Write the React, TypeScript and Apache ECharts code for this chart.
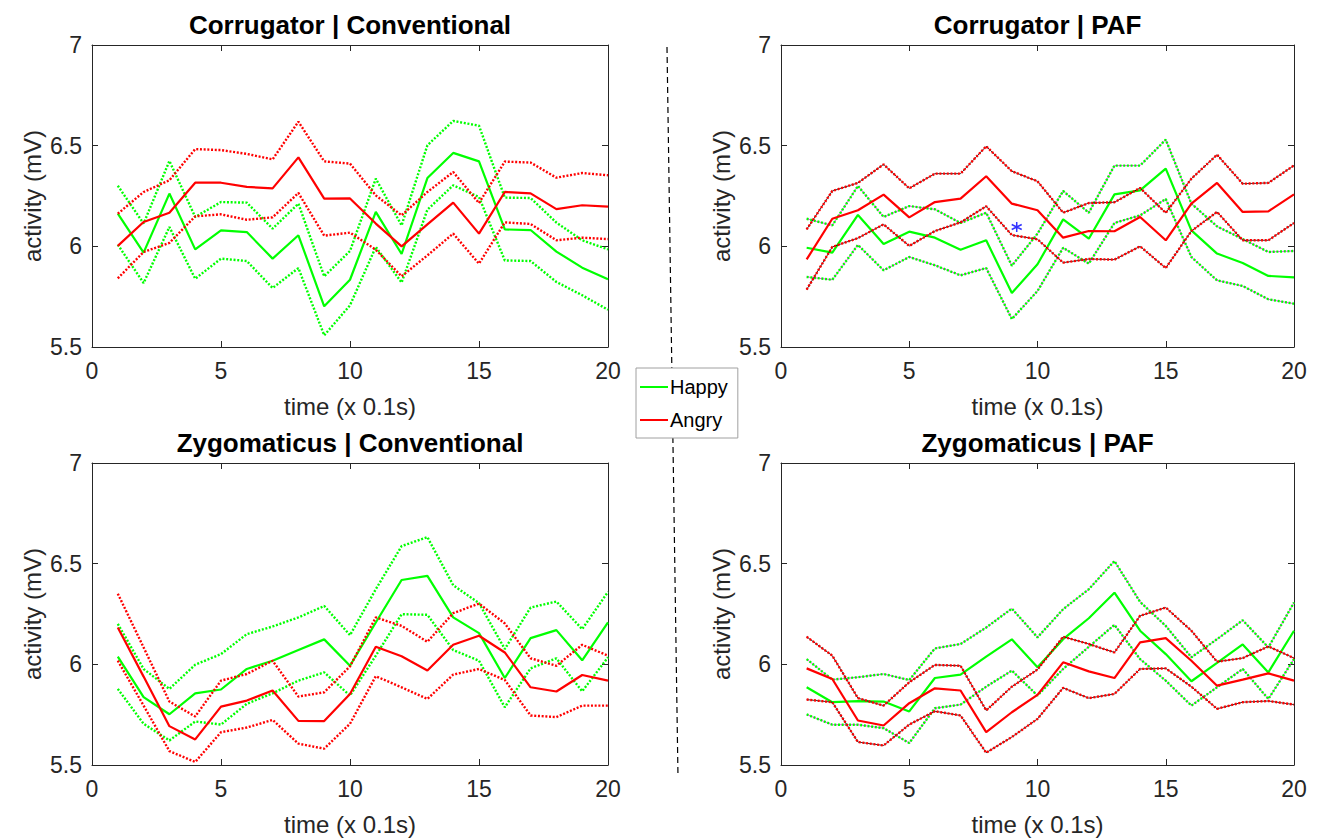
import React, { useEffect, useRef } from "react";
import * as echarts from "echarts";

const timeSteps = [1, 2, 3, 4, 5, 6, 7, 8, 9, 10, 11, 12, 13, 14, 15, 16, 17, 18, 19, 20];
const xTicks = { min: 0, max: 20, interval: 5 };
const yTicks = { min: 5.5, max: 7, interval: 0.5 };

// Corrugator | Conventional
const ccHappyMean = [6.162, 5.969, 6.262, 5.985, 6.079, 6.071, 5.939, 6.055, 5.702, 5.834, 6.171, 5.962, 6.339, 6.464, 6.422, 6.084, 6.081, 5.974, 5.894, 5.836];
const ccHappyUpper = [6.301, 6.113, 6.424, 6.146, 6.22, 6.217, 6.088, 6.212, 5.851, 5.977, 6.336, 6.104, 6.502, 6.623, 6.599, 6.242, 6.24, 6.118, 6.03, 5.985];
const ccHappyLower = [6.008, 5.818, 6.096, 5.839, 5.939, 5.927, 5.793, 5.892, 5.558, 5.707, 5.997, 5.82, 6.182, 6.303, 6.245, 5.93, 5.927, 5.823, 5.757, 5.685];
const ccAngryMean = [6.002, 6.121, 6.167, 6.316, 6.316, 6.295, 6.288, 6.442, 6.237, 6.238, 6.113, 6.0, 6.109, 6.217, 6.063, 6.27, 6.263, 6.185, 6.204, 6.197];
const ccAngryUpper = [6.162, 6.27, 6.328, 6.483, 6.478, 6.459, 6.432, 6.619, 6.422, 6.411, 6.253, 6.154, 6.27, 6.369, 6.215, 6.421, 6.416, 6.341, 6.364, 6.353];
const ccAngryLower = [5.841, 5.972, 6.017, 6.149, 6.159, 6.132, 6.144, 6.265, 6.053, 6.068, 5.983, 5.851, 5.955, 6.063, 5.914, 6.119, 6.111, 6.03, 6.043, 6.036];

// Corrugator | PAF
const cpHappyMean = [5.993, 5.969, 6.156, 6.012, 6.073, 6.043, 5.983, 6.03, 5.768, 5.911, 6.134, 6.038, 6.258, 6.278, 6.386, 6.079, 5.964, 5.917, 5.853, 5.846];
const cpHappyUpper = [6.137, 6.104, 6.3, 6.146, 6.2, 6.184, 6.116, 6.167, 5.904, 6.063, 6.275, 6.167, 6.401, 6.401, 6.53, 6.212, 6.099, 6.036, 5.972, 5.977];
const cpHappyLower = [5.848, 5.834, 6.007, 5.881, 5.947, 5.906, 5.856, 5.892, 5.639, 5.778, 5.993, 5.914, 6.116, 6.154, 6.235, 5.947, 5.831, 5.803, 5.737, 5.715];
const cpAngryMean = [5.935, 6.137, 6.179, 6.257, 6.144, 6.22, 6.237, 6.348, 6.212, 6.179, 6.043, 6.076, 6.075, 6.146, 6.03, 6.212, 6.315, 6.171, 6.174, 6.258];
const cpAngryUpper = [6.084, 6.275, 6.315, 6.407, 6.288, 6.361, 6.361, 6.497, 6.373, 6.323, 6.167, 6.215, 6.219, 6.29, 6.166, 6.336, 6.455, 6.311, 6.315, 6.402];
const cpAngryLower = [5.785, 5.997, 6.041, 6.109, 6.002, 6.076, 6.119, 6.199, 6.056, 6.035, 5.919, 5.937, 5.934, 6.0, 5.892, 6.076, 6.171, 6.03, 6.03, 6.116];
const cpStarX = [9.19];
const cpStarY = [6.096];

// Zygomaticus | Conventional
const zcHappyMean = [6.038, 5.837, 5.752, 5.856, 5.875, 5.977, 6.018, 6.071, 6.124, 5.993, 6.208, 6.419, 6.439, 6.233, 6.155, 5.932, 6.13, 6.17, 6.02, 6.208];
const zcHappyUpper = [6.201, 5.977, 5.878, 5.998, 6.051, 6.15, 6.188, 6.233, 6.29, 6.145, 6.373, 6.587, 6.632, 6.393, 6.304, 6.076, 6.282, 6.312, 6.175, 6.36];
const zcHappyLower = [5.878, 5.705, 5.622, 5.716, 5.701, 5.804, 5.856, 5.919, 5.96, 5.845, 6.043, 6.249, 6.246, 6.071, 6.018, 5.787, 5.98, 6.03, 5.866, 6.035];
const zcAngryMean = [6.183, 5.939, 5.693, 5.627, 5.79, 5.82, 5.87, 5.719, 5.718, 5.853, 6.087, 6.04, 5.969, 6.097, 6.142, 6.059, 5.886, 5.865, 5.947, 5.919];
const zcAngryUpper = [6.351, 6.084, 5.815, 5.741, 5.919, 5.952, 6.018, 5.84, 5.861, 5.99, 6.233, 6.191, 6.112, 6.254, 6.302, 6.203, 6.03, 5.993, 6.097, 6.043];
const zcAngryLower = [6.018, 5.795, 5.569, 5.515, 5.663, 5.686, 5.724, 5.606, 5.581, 5.705, 5.941, 5.886, 5.828, 5.949, 5.977, 5.922, 5.746, 5.738, 5.795, 5.795];

// Zygomaticus | PAF
const zpHappyMean = [5.886, 5.812, 5.817, 5.815, 5.766, 5.932, 5.949, 6.038, 6.124, 5.985, 6.125, 6.229, 6.356, 6.167, 6.051, 5.916, 6.007, 6.099, 5.96, 6.167];
const zpHappyUpper = [6.026, 5.924, 5.936, 5.952, 5.922, 6.079, 6.101, 6.183, 6.277, 6.134, 6.274, 6.373, 6.513, 6.31, 6.191, 6.035, 6.125, 6.219, 6.084, 6.307];
const zpHappyLower = [5.751, 5.7, 5.7, 5.683, 5.609, 5.782, 5.8, 5.889, 5.969, 5.845, 5.977, 6.087, 6.196, 6.026, 5.919, 5.795, 5.886, 5.977, 5.828, 6.026];
const zpAngryMean = [5.98, 5.927, 5.721, 5.696, 5.807, 5.881, 5.87, 5.663, 5.762, 5.848, 6.01, 5.965, 5.932, 6.109, 6.13, 6.018, 5.894, 5.924, 5.955, 5.919];
const zpAngryUpper = [6.137, 6.043, 5.832, 5.795, 5.911, 5.997, 5.993, 5.771, 5.889, 5.974, 6.137, 6.101, 6.059, 6.241, 6.282, 6.167, 6.013, 6.031, 6.089, 6.031];
const zpAngryLower = [5.825, 5.812, 5.614, 5.597, 5.701, 5.767, 5.746, 5.561, 5.639, 5.729, 5.883, 5.832, 5.853, 5.977, 5.98, 5.889, 5.779, 5.812, 5.818, 5.8];

const panelTitles = ["Corrugator | Conventional", "Corrugator | PAF", "Zygomaticus | Conventional", "Zygomaticus | PAF"];
const legendNames = ["Happy", "Angry"];

const FONT = "'Liberation Sans', Arial, Helvetica, sans-serif";
const AX = "#262626";
const GREEN = "#00ff00";
const RED = "#ff0000";

const panels = [
  { happy: [ccHappyMean, ccHappyUpper, ccHappyLower], angry: [ccAngryMean, ccAngryUpper, ccAngryLower], paf: false },
  { happy: [cpHappyMean, cpHappyUpper, cpHappyLower], angry: [cpAngryMean, cpAngryUpper, cpAngryLower], paf: true },
  { happy: [zcHappyMean, zcHappyUpper, zcHappyLower], angry: [zcAngryMean, zcAngryUpper, zcAngryLower], paf: false },
  { happy: [zpHappyMean, zpHappyUpper, zpHappyLower], angry: [zpAngryMean, zpAngryUpper, zpAngryLower], paf: true },
];

const gridLeft = [92, 781, 92, 781];
const gridTop = [45, 45, 463, 463];
const gridWidth = [516, 513, 516, 513];
const gridHeight = 302;

function pairs(values: number[]) {
  return timeSteps.map((t, k) => [t, values[k]]);
}

function line(name: string, values: number[], idx: number, color: string, dotted: boolean, width: number, z: number, opacity = 1) {
  return {
    type: "line",
    name,
    xAxisIndex: idx,
    yAxisIndex: idx,
    data: pairs(values),
    showSymbol: false,
    symbol: "none",
    silent: true,
    z,
    lineStyle: { color, width, opacity, type: dotted ? [2, 1.7] : "solid", cap: "butt" },
    itemStyle: { color },
  };
}

function buildOption() {
  const grid: any[] = [];
  const xAxis: any[] = [];
  const yAxis: any[] = [];
  const title: any[] = [];
  const series: any[] = [];
  const tickStyle = { inside: true, length: 6, lineStyle: { color: AX, width: 1 } };
  const lineStyle = { show: true, onZero: false, lineStyle: { color: AX, width: 1 } };

  for (let i = 0; i < 4; i++) {
    grid.push({ left: gridLeft[i], top: gridTop[i], width: gridWidth[i], height: gridHeight, containLabel: false });
    title.push({
      text: panelTitles[i],
      left: gridLeft[i] + gridWidth[i] / 2,
      top: gridTop[i] - 33,
      textAlign: "center",
      padding: 0,
      textStyle: { fontSize: 26, fontWeight: "bold", color: "#000", fontFamily: FONT },
    });
  }
  for (let i = 0; i < 4; i++) {
    xAxis.push({
      type: "value", gridIndex: i, position: "bottom", ...xTicks,
      axisLine: lineStyle, axisTick: tickStyle, splitLine: { show: false },
      axisLabel: { fontSize: 23, color: AX, fontFamily: FONT, margin: 12, showMinLabel: true, showMaxLabel: true },
      name: "time (x 0.1s)", nameLocation: "middle", nameGap: 47,
      nameTextStyle: { fontSize: 24, color: AX, fontFamily: FONT },
    });
    yAxis.push({
      type: "value", gridIndex: i, position: "left", ...yTicks,
      axisLine: lineStyle, axisTick: tickStyle, splitLine: { show: false },
      axisLabel: { fontSize: 23, color: AX, fontFamily: FONT, margin: 10, showMinLabel: true, showMaxLabel: true },
      name: "activity (mV)", nameLocation: "middle", nameGap: 48,
      nameTextStyle: { fontSize: 24, color: AX, fontFamily: FONT },
    });
  }
  for (let i = 0; i < 4; i++) {
    xAxis.push({
      type: "value", gridIndex: i, position: "top", ...xTicks,
      axisLine: lineStyle, axisTick: tickStyle, splitLine: { show: false }, axisLabel: { show: false },
    });
    yAxis.push({
      type: "value", gridIndex: i, position: "right", ...yTicks,
      axisLine: lineStyle, axisTick: tickStyle, splitLine: { show: false }, axisLabel: { show: false },
    });
  }

  panels.forEach((p, i) => {
    const [hm, hu, hl] = p.happy;
    const [am, au, al] = p.angry;
    if (p.paf) {
      series.push(line("Happy bound under", hu, i, "#ff00ff", false, 1, 2, 0.8));
      series.push(line("Happy bound under", hl, i, "#ff00ff", false, 1, 2, 0.8));
    }
    series.push(line("Happy bound", hu, i, GREEN, true, 2.4, 3));
    series.push(line("Happy bound", hl, i, GREEN, true, 2.4, 3));
    series.push(line(legendNames[0], hm, i, GREEN, false, 2.2, 4));
    if (p.paf) {
      series.push(line("Angry bound under", au, i, "#000000", false, 1, 5, 0.8));
      series.push(line("Angry bound under", al, i, "#000000", false, 1, 5, 0.8));
    }
    series.push(line("Angry bound", au, i, RED, true, 2.4, 6));
    series.push(line("Angry bound", al, i, RED, true, 2.4, 6));
    series.push(line(legendNames[1], am, i, RED, false, 2.2, 7));
  });

  series.push({
    type: "scatter",
    name: "significant",
    xAxisIndex: 1,
    yAxisIndex: 1,
    data: cpStarX.map((x, k) => [x, cpStarY[k]]),
    symbol: "path://M0,-10L0,10M-8.66,-5L8.66,5M-8.66,5L8.66,-5",
    symbolSize: 10,
    silent: true,
    z: 10,
    itemStyle: { color: "none", borderColor: "#0000ff", borderWidth: 1.5 },
  });

  return {
    animation: false,
    backgroundColor: "#ffffff",
    grid,
    xAxis,
    yAxis,
    title,
    series,
    legend: {
      data: legendNames,
      orient: "vertical",
      left: 636,
      top: 368,
      padding: [9, 10, 8, 4],
      itemGap: 13,
      itemWidth: 28,
      itemHeight: 2,
      icon: "rect",
      backgroundColor: "#ffffff",
      borderColor: "#a0a0a0",
      borderWidth: 1,
      borderRadius: 0,
      z: 20,
      selectedMode: false,
      textStyle: { fontSize: 20, color: "#000", fontFamily: FONT, padding: [0, 0, 0, -3] },
    },
    graphic: [
      {
        type: "line",
        z: 1,
        silent: true,
        shape: { x1: 667, y1: 47, x2: 678, y2: 777 },
        style: { stroke: "#000", lineWidth: 1.2, lineDash: [6, 4] },
      },
    ],
  };
}

export default function App() {
  const ref = useRef<HTMLDivElement>(null);
  useEffect(() => {
    if (!ref.current) return;
    const chart = echarts.init(ref.current, null, { renderer: "svg" });
    chart.setOption(buildOption() as any);
    return () => chart.dispose();
  }, []);
  return <div ref={ref} style={{ position: "fixed", left: 0, top: 0, width: 1325, height: 840, background: "#fff" }} />;
}
